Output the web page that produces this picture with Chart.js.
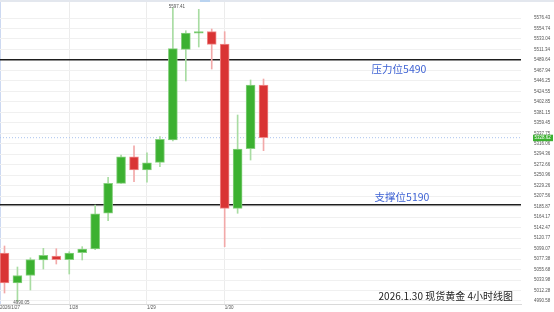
<!DOCTYPE html>
<html>
<head>
<meta charset="utf-8">
<script src="https://cdn.jsdelivr.net/npm/chart.js@4.4.1/dist/chart.umd.min.js"></script>
<style>
html,body{margin:0;padding:0;background:#fff;overflow:hidden}
#caixa{width:554px;height:312px;position:relative}
</style>
</head>
<body>
<div id="caixa"><canvas id="grafico"></canvas></div>
<script>
// 4h candles, gold spot, 2026/1/27 - 1/30
const abre  =[5089.9,5027.8,5043.3,5075.4,5083.6,5076.0,5090.5,5098.1,5172.1,5234.2,5289.2,5261.7,5277.6,5323.8,5511.6,5544.8,5548.1,5522.6,5182.4,5305.8,5437.7];
const maxima=[5104.4,5060.9,5080.0,5099.6,5098.8,5092.6,5103.0,5189.0,5246.6,5292.8,5312.0,5297.5,5330.7,5597.41,5550.1,5594.4,5553.7,5548.1,5375.6,5448.1,5450.1];
const minima=[5007.0,4990.05,5013.3,5056.7,5067.1,5046.4,5075.4,5097.0,5156.7,5233.8,5237.5,5236.3,5268.6,5321.8,5446.0,5516.4,5470.8,5102.9,5172.1,5282.4,5301.7];
const fecha =[5027.8,5043.3,5076.4,5085.1,5076.0,5089.9,5098.1,5171.2,5234.2,5289.2,5261.7,5276.8,5325.3,5512.9,5545.4,5548.1,5521.9,5182.4,5305.2,5437.7,5328.62];

const resistencia=5490, suporte=5190;
const yTicks=[5576.43,5554.74,5533.04,5511.34,5489.64,5467.94,5446.25,5424.55,5402.85,5381.15,5359.45,5337.75,5316.06,5294.36,5272.66,5250.96,5229.26,5207.56,5185.87,5164.17,5142.47,5120.77,5099.07,5077.38,5055.68,5033.98,5012.28,4990.58];
const xTickLabels=['2026/1/27','1/28','1/29','1/30'];
const xTickIdx=[null,5,11,17]; // null = left edge

const X_MIN=-0.3475, X_MAX=39.88, Y_MIN=4984.3, Y_MAX=5609.56;
const VERDE='#3cb131', VERMELHO='#d93434';

const alta=abre.map((o,i)=>fecha[i]>=o);
const corpos=abre.map((o,i)=>({x:i,y:[o,fecha[i]]}));
const pavios=abre.map((o,i)=>({x:i,y:[minima[i],maxima[i]]}));
const linhaH=v=>[{x:X_MIN,y:v},{x:X_MAX,y:v}];

const iAlto=maxima.indexOf(Math.max(...maxima)), iBaixo=minima.indexOf(Math.min(...minima));

// textos e etiqueta de preço
const anotacoes={
  id:'anotacoes',
  beforeDraw(c){
    const ctx=c.ctx; ctx.save();
    ctx.fillStyle='#fff'; ctx.fillRect(0,0,c.width,c.height);
    ctx.fillStyle='#e3e7ee'; ctx.fillRect(0,0,c.width,2);
    ctx.fillStyle='#b9d3f0'; ctx.fillRect(200,0,10,2);
    ctx.restore();
  },
  afterDatasetsDraw(c){
    const ctx=c.ctx, xs=c.scales.x, ys=c.scales.y, a=c.chartArea;
    ctx.save();
    ctx.textAlign='center'; ctx.textBaseline='middle';
    ctx.font='10.5px "Noto Sans CJK SC"'; ctx.fillStyle='#3f63d4';
    ctx.fillText('压力位'+resistencia, 399, ys.getPixelForValue(resistencia)+9.5);
    ctx.fillText('支撑位'+suporte, 402, ys.getPixelForValue(suporte)-8);
    ctx.fillStyle='#222'; ctx.font='10px "Noto Sans CJK SC"'; ctx.textAlign='right';
    ctx.fillText('2026.1.30 现货黄金 4小时线图', 513, 296);
    ctx.font='4.5px "Liberation Sans"'; ctx.fillStyle='#555'; ctx.textAlign='center';
    ctx.fillText(maxima[iAlto].toFixed(2), xs.getPixelForValue(iAlto)+4, ys.getPixelForValue(maxima[iAlto])-1.5);
    ctx.fillText(minima[iBaixo].toFixed(2), xs.getPixelForValue(iBaixo)+4, ys.getPixelForValue(minima[iBaixo])+2);
    // preço atual
    const ult=fecha[fecha.length-1], py=ys.getPixelForValue(ult);
    ctx.fillStyle=VERDE; ctx.fillRect(a.right+12,py-3,20,6.5);
    ctx.fillStyle='#fff'; ctx.textAlign='left';
    ctx.fillText(ult.toFixed(2), a.right+13.5, py+0.3);
    ctx.restore();
  }
};

new Chart(document.getElementById('grafico'),{
  type:'bar',
  data:{
    datasets:[
      {label:'corpo', data:corpos, grouped:false, barThickness:9, order:0,
       backgroundColor:alta.map(u=>u?VERDE:VERMELHO),
       borderColor:alta.map(u=>u?'#86d07e':'#ef8a8a'), borderWidth:1, borderSkipped:false},
      {label:'pavio', data:pavios, grouped:false, barThickness:1, order:1,
       backgroundColor:alta.map(u=>u?'#a8dca2':'#f2a9a9'), borderWidth:0},
      {type:'line', label:'resistencia', data:linhaH(resistencia), borderColor:'#1e1e1e', borderWidth:1.5, pointRadius:0, order:2},
      {type:'line', label:'suporte', data:linhaH(suporte), borderColor:'#1e1e1e', borderWidth:1.5, pointRadius:0, order:2},
      {type:'line', label:'atual', data:linhaH(fecha[fecha.length-1]), borderColor:'#a9c3ee', borderWidth:1, borderDash:[1,2], pointRadius:0, order:3}
    ]
  },
  options:{
    responsive:true, maintainAspectRatio:false, animation:false,
    layout:{padding:{left:0,right:0,top:2,bottom:0}},
    plugins:{legend:{display:false}, tooltip:{enabled:false}},
    scales:{
      x:{type:'linear', min:X_MIN, max:X_MAX, offset:false,
        grid:{offset:false, drawTicks:false, color:ctx=>ctx.index===0?'#cdd9f1':'#ececec'},
        border:{color:'#d9d9d9'},
        afterBuildTicks:s=>{ s.ticks=xTickIdx.map(v=>({value:v===null?X_MIN:v})); },
        afterFit:s=>{ s.height=8; s.paddingLeft=0; s.paddingRight=0; },
        ticks:{autoSkip:false, maxRotation:0, align:'start', padding:1.5, color:'#555',
          font:{size:4.5, family:'Liberation Sans'}, callback:(v,i)=>xTickLabels[i]}
      },
      y:{position:'right', min:Y_MIN, max:Y_MAX,
        grid:{drawTicks:false, color:'#f0f0f0'},
        border:{display:false},
        afterBuildTicks:s=>{ s.ticks=yTicks.map(v=>({value:v})); },
        afterFit:s=>{ s.width=33; s.paddingTop=0; s.paddingBottom=0; },
        ticks:{padding:13, color:'#555', font:{size:4.5, family:'Liberation Sans'}, callback:v=>v.toFixed(2)}
      }
    }
  },
  plugins:[anotacoes]
});
</script>
</body>
</html>
